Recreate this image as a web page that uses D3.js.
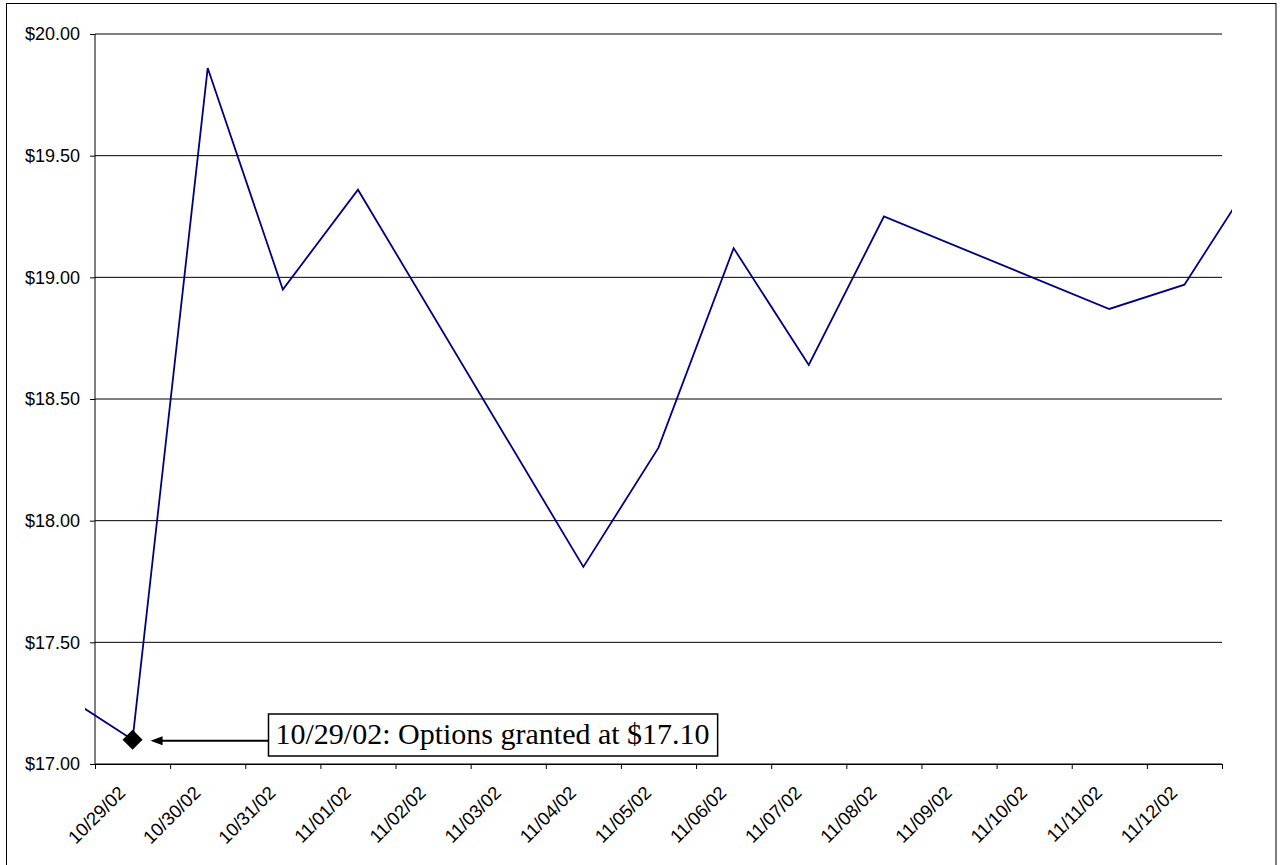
<!DOCTYPE html>
<html>
<head>
<meta charset="utf-8">
<script src="https://cdn.jsdelivr.net/npm/d3@7"></script>
<style>
  html, body { margin: 0; padding: 0; background: #fff; }
  svg { display: block; }
</style>
</head>
<body>
<svg id="chart" width="1282" height="865"></svg>
<script>
// Daily closing prices (trading days only; weekends are bridged by the line)
const tradeDates = [
  "2002-10-28", "2002-10-29", "2002-10-30", "2002-10-31", "2002-11-01",
  "2002-11-04", "2002-11-05", "2002-11-06", "2002-11-07", "2002-11-08",
  "2002-11-11", "2002-11-12", "2002-11-13"
];
const closePrices = [
  17.30, 17.10, 19.86, 18.95, 19.36,
  17.81, 18.30, 19.12, 18.64, 19.25,
  18.87, 18.97, 19.45
];
// Category labels along the bottom axis
const dayLabels = [
  "10/29/02", "10/30/02", "10/31/02", "11/01/02", "11/02/02",
  "11/03/02", "11/04/02", "11/05/02", "11/06/02", "11/07/02",
  "11/08/02", "11/09/02", "11/10/02", "11/11/02", "11/12/02"
];
const priceTicks = [17.00, 17.50, 18.00, 18.50, 19.00, 19.50, 20.00];
const grantDate = "2002-10-29";
const grantPrice = 17.10;
const grantNote = "10/29/02: Options granted at $17.10";

const parseDay = d3.utcParse("%Y-%m-%d");
const parseLabel = d3.utcParse("%m/%d/%y");
const noon = d => d3.utcHour.offset(d, 12);

const svg = d3.select("#chart");
const W = 1282, H = 865;
const plot = { left: 95, right: 1222, top: 34, bottom: 764 };

// outer frame
svg.append("rect")
  .attr("x", 6.5).attr("y", 3.5)
  .attr("width", 1269.5).attr("height", 880)
  .attr("fill", "#fff").attr("stroke", "#000").attr("stroke-width", 1);

const firstDay = parseLabel(dayLabels[0]);
const lastDay = d3.utcDay.offset(parseLabel(dayLabels[dayLabels.length - 1]), 1);

const x = d3.scaleUtc().domain([firstDay, lastDay]).range([plot.left, plot.right]);
const y = d3.scaleLinear().domain([17, 20]).range([plot.bottom, plot.top]);

// horizontal gridlines
svg.append("g")
  .selectAll("line")
  .data(priceTicks)
  .join("line")
  .attr("x1", plot.left).attr("x2", plot.right)
  .attr("y1", d => y(d)).attr("y2", d => y(d))
  .attr("stroke", "#000").attr("stroke-width", 1);

// y axis
const yAxis = svg.append("g")
  .attr("transform", `translate(${plot.left},0)`)
  .call(d3.axisLeft(y)
    .tickValues(priceTicks)
    .tickSize(5)
    .tickPadding(10)
    .tickFormat(d => "$" + d3.format(".2f")(d)));
yAxis.select(".domain").attr("stroke", "#000").attr("stroke-width", 1)
  .attr("d", `M-0,${plot.bottom}V${plot.top}`);
yAxis.selectAll(".tick line").attr("stroke", "#000");
yAxis.selectAll("text")
  .attr("font-family", "'Liberation Sans', Arial, sans-serif")
  .attr("font-size", 18)
  .attr("fill", "#000");

// x axis: tick marks at day boundaries, labels centred on each day
const xAxis = svg.append("g")
  .attr("transform", `translate(0,${plot.bottom})`)
  .call(d3.axisBottom(x)
    .ticks(d3.utcDay.every(1))
    .tickSizeInner(5)
    .tickSizeOuter(0)
    .tickFormat(""));
xAxis.select(".domain").attr("stroke", "#000").attr("stroke-width", 1);
xAxis.selectAll(".tick line").attr("stroke", "#000");

svg.append("g")
  .selectAll("text")
  .data(dayLabels)
  .join("text")
  .attr("transform", d => `translate(${x(noon(parseLabel(d))) - 6},${plot.bottom + 30}) rotate(-45)`)
  .attr("text-anchor", "end")
  .attr("font-family", "'Liberation Sans', Arial, sans-serif")
  .attr("font-size", 18.5)
  .attr("fill", "#000")
  .text(d => d);

// price line, allowed to run slightly past the plot edges
svg.append("defs").append("clipPath").attr("id", "lineClip")
  .append("rect")
  .attr("x", plot.left - 10).attr("y", 0)
  .attr("width", plot.right - plot.left + 20).attr("height", H);

const series = tradeDates.map((d, i) => ({ date: noon(parseDay(d)), price: closePrices[i] }));
const line = d3.line().x(d => x(d.date)).y(d => y(d.price));

svg.append("path")
  .datum(series)
  .attr("clip-path", "url(#lineClip)")
  .attr("d", line)
  .attr("fill", "none")
  .attr("stroke", "#000080")
  .attr("stroke-width", 1.8)
  .attr("stroke-linejoin", "miter");

// grant marker
const gx = x(noon(parseDay(grantDate)));
const gy = y(grantPrice);
svg.append("path")
  .attr("d", d3.symbol().type(d3.symbolSquare).size(200)())
  .attr("transform", `translate(${gx},${gy}) rotate(45)`)
  .attr("fill", "#000");

// callout arrow
const tipX = gx + 18, arrowY = gy + 1;
const boxX = 268.5;
svg.append("line")
  .attr("x1", boxX).attr("x2", tipX + 10)
  .attr("y1", arrowY).attr("y2", arrowY)
  .attr("stroke", "#000").attr("stroke-width", 2);
svg.append("path")
  .attr("d", `M${tipX},${arrowY}L${tipX + 12},${arrowY - 4.5}L${tipX + 12},${arrowY + 4.5}Z`)
  .attr("fill", "#000");

// callout box and text
const note = svg.append("g");
const noteText = note.append("text")
  .attr("x", boxX + 7).attr("y", 743.5)
  .attr("font-family", "'Liberation Serif', 'Times New Roman', serif")
  .attr("font-size", 30)
  .attr("fill", "#000")
  .text(grantNote);
const tw = noteText.node().getComputedTextLength();
note.insert("rect", "text")
  .attr("x", boxX).attr("y", 714)
  .attr("width", tw + 15).attr("height", 42)
  .attr("fill", "#fff").attr("stroke", "#000").attr("stroke-width", 1.5);
</script>
</body>
</html>
